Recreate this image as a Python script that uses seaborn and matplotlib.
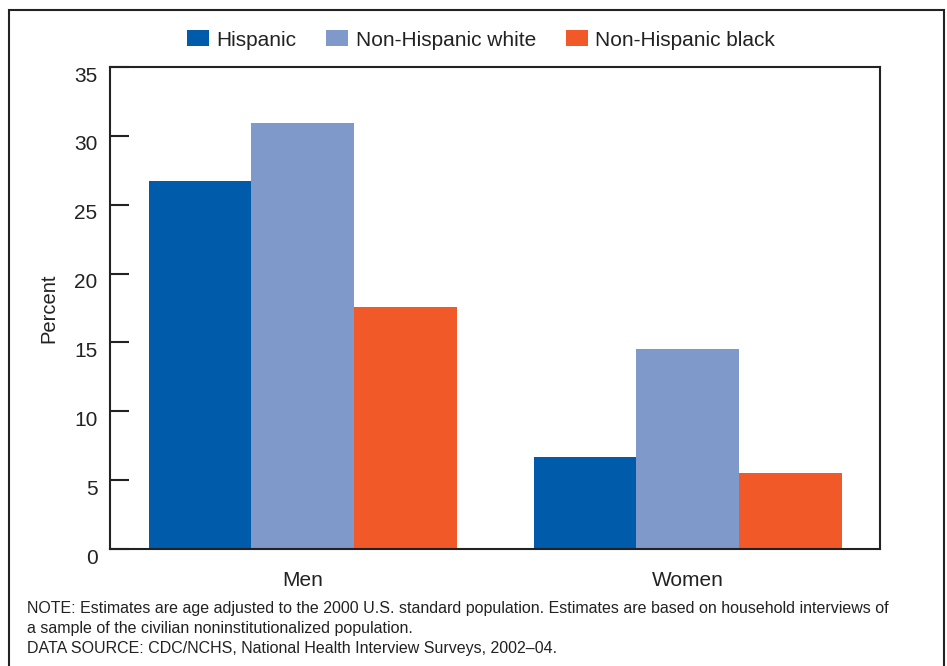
import matplotlib
matplotlib.use("Agg")
import matplotlib.pyplot as plt
import matplotlib.transforms as mtransforms
from matplotlib.patches import Rectangle, Patch
import seaborn as sns
import pandas as pd

categories = ["Men", "Women"]
groups = ["Hispanic", "Non-Hispanic white", "Non-Hispanic black"]
hispanic = [26.7, 6.7]
nh_white = [30.9, 14.5]
nh_black = [17.6, 5.5]
y_ticks = [0, 5, 10, 15, 20, 25, 30, 35]
colors = ["#005BAA", "#7F99CB", "#F15A28"]

rows = []
for g, vals in zip(groups, [hispanic, nh_white, nh_black]):
    for c, v in zip(categories, vals):
        rows.append({"Sex": c, "Group": g, "Percent": v})
df = pd.DataFrame(rows)

sns.set_theme(style="white")
plt.rcParams["font.family"] = ["Liberation Sans", "DejaVu Sans"]

fig = plt.figure(figsize=(9.47, 6.66), dpi=100)
ax = fig.add_axes([110/947, 1-549/666, (880-110)/947, (549-67)/666])

sns.barplot(data=df, x="Sex", y="Percent", hue="Group", order=categories,
            hue_order=groups, palette=colors, saturation=1, width=0.8,
            linewidth=0, ax=ax, legend=False)

ax.set_xlim(-0.5, 1.5)
ax.set_ylim(0, 35)
ax.set_yticks(y_ticks)
ax.set_yticklabels([str(t) for t in y_ticks])
ax.tick_params(axis="y", direction="in", length=13.5, width=1.5, color="#222222",
               labelsize=15, pad=9, labelcolor="#222222", left=True)
ax.tick_params(axis="x", length=0, labelsize=15, pad=16, labelcolor="#222222")
offset = mtransforms.ScaledTranslation(0, -0.07, fig.dpi_scale_trans)
for lab in ax.get_yticklabels():
    lab.set_transform(lab.get_transform() + offset)
ax.set_xlabel("")
ax.set_ylabel("Percent", fontsize=14.5, color="#222222", labelpad=11)
for s in ax.spines.values():
    s.set_visible(True)
    s.set_color("#222222")
    s.set_linewidth(1.5)

handles = [Patch(facecolor=c, edgecolor="none") for c in colors]
fig.legend(handles, groups, ncol=3, loc="center",
           bbox_to_anchor=(481/947, 1-40/666), frameon=False,
           fontsize=15, handlelength=1.05, handleheight=0.8,
           handletextpad=0.35, columnspacing=1.45, labelcolor="#222222")

note_lines = [
    "NOTE: Estimates are age adjusted to the 2000 U.S. standard population. Estimates are based on household interviews of",
    "a sample of the civilian noninstitutionalized population.",
    "DATA SOURCE: CDC/NCHS, National Health Interview Surveys, 2002\u201304.",
]
for i, line in enumerate(note_lines):
    fig.text(27/947, 1-(609+19.5*i)/666, line, fontsize=11.5, va="center",
             ha="left", color="#222222")

fig.add_artist(Rectangle((8.5/947, -0.05), (944-8.5)/947, 1.05-10/666,
                         transform=fig.transFigure, fill=False,
                         edgecolor="#222222", linewidth=1.5, clip_on=False))

fig.savefig("out.png", dpi=100, facecolor="white")
